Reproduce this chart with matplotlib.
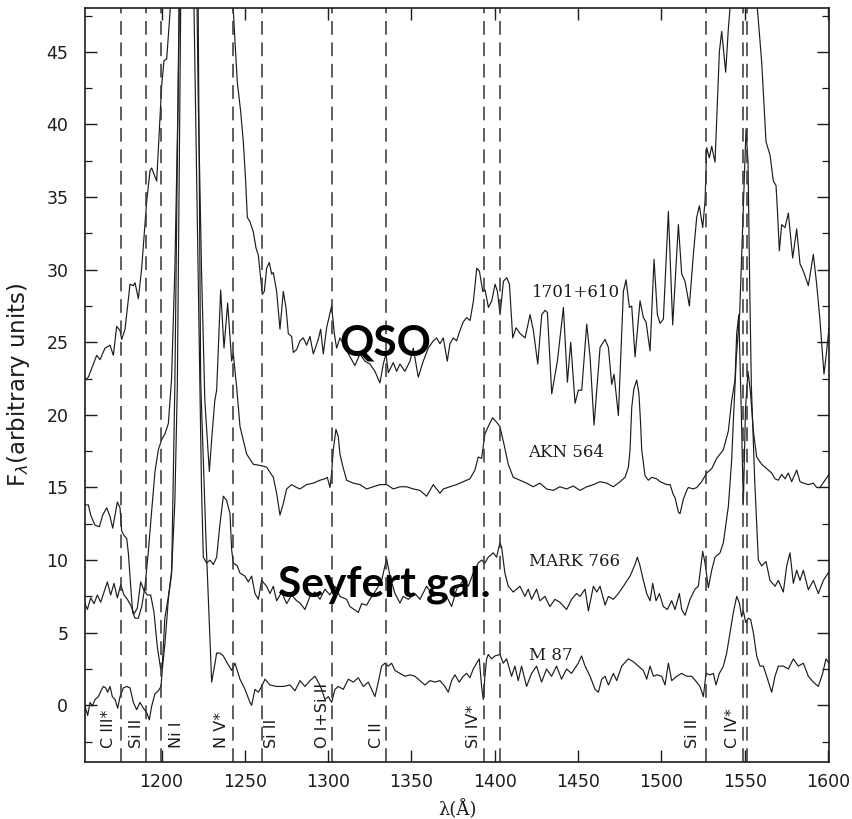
import matplotlib
matplotlib.use("Agg")
import matplotlib.pyplot as plt
import numpy as np

plt.rcParams["font.family"] = ["DejaVu Sans"]

# ---------------- spectra (wavelength in Angstrom, flux in arbitrary units) ----------------
lam_qso = [1154.1, 1156.1, 1159.1, 1161.1, 1163.1, 1166.1, 1169.1, 1171.1, 1173.1, 1175.1,
           1176.1, 1178.1, 1181.1, 1183.1, 1184.1, 1186.1, 1188.1, 1190.1, 1191.1, 1193.1,
           1194.1, 1197.1, 1198.7, 1200.1, 1201.5, 1203.1, 1205.1, 1208.0, 1212.0, 1216.0,
           1222.0, 1230.0, 1238.0, 1243.1, 1244.1, 1245.5, 1247.5, 1249.1, 1250.5, 1251.5,
           1253.1, 1255.1, 1256.7, 1258.1, 1259.5, 1260.5, 1261.7, 1263.1, 1264.7, 1266.1,
           1267.1, 1269.1, 1271.1, 1273.1, 1274.7, 1276.1, 1278.1, 1279.1, 1281.1, 1283.1,
           1285.1, 1287.1, 1289.1, 1291.1, 1294.1, 1295.5, 1297.1, 1299.1, 1302.1, 1303.7,
           1305.1, 1307.1, 1309.1, 1313.1, 1316.1, 1319.1, 1322.1, 1325.1, 1328.1, 1331.1,
           1333.1, 1334.7, 1336.1, 1339.1, 1341.1, 1343.1, 1346.1, 1349.1, 1351.1, 1354.1,
           1357.1, 1360.1, 1363.1, 1365.1, 1367.1, 1369.1, 1371.5, 1373.1, 1375.1, 1377.1,
           1379.1, 1381.1, 1383.1, 1385.2, 1387.2, 1389.2, 1390.8, 1392.8, 1394.2, 1396.2,
           1398.2, 1400.2, 1401.6, 1403.2, 1405.2, 1407.2, 1408.8, 1410.8, 1412.8, 1415.2,
           1418.2, 1421.2, 1423.2, 1425.8, 1428.2, 1430.2, 1431.6, 1434.2, 1437.6, 1441.2,
           1443.6, 1445.6, 1448.2, 1450.2, 1452.2, 1455.2, 1457.2, 1459.6, 1463.2, 1466.2,
           1468.2, 1470.2, 1471.6, 1474.2, 1477.2, 1478.8, 1480.8, 1482.2, 1484.2, 1487.2,
           1489.2, 1490.8, 1493.2, 1495.6, 1497.6, 1499.2, 1501.2, 1504.2, 1506.8, 1510.2,
           1512.2, 1514.2, 1516.8, 1519.2, 1521.2, 1522.8, 1524.8, 1526.2, 1527.2, 1528.8,
           1530.2, 1532.2, 1533.6, 1534.8, 1536.2, 1538.6, 1540.2, 1541.2, 1545.0, 1550.0,
           1555.0, 1557.6, 1560.2, 1562.8, 1565.2, 1567.2, 1568.8, 1569.6, 1570.8, 1572.2,
           1574.2, 1576.2, 1578.8, 1581.2, 1583.2, 1585.2, 1588.2, 1591.2, 1593.2, 1595.2,
           1597.6, 1599.2, 1600.6]
flux_qso = [22.4, 22.6, 23.5, 24.1, 23.8, 24.6, 24.8, 24.1, 26.1, 25.8,
            25.2, 25.9, 29.0, 28.9, 29.1, 28.0, 30.1, 33.1, 34.7, 36.8,
            37.0, 36.1, 39.7, 42.7, 44.4, 44.5, 47.7, 56.0, 68.0, 85.0,
            75.0, 65.0, 55.0, 47.85, 45.7, 42.9, 40.9, 38.8, 36.1, 33.6,
            33.3, 32.6, 31.5, 31.0, 29.4, 28.3, 28.5, 30.1, 30.5, 29.7,
            29.8, 28.5, 25.9, 28.5, 27.4, 25.6, 25.4, 24.3, 24.5, 25.1,
            25.3, 24.8, 25.4, 24.2, 25.2, 25.9, 24.2, 26.0, 27.5, 25.6,
            24.6, 25.3, 24.9, 24.0, 23.4, 24.2, 23.7, 23.5, 23.0, 22.2,
            23.5, 24.2, 22.9, 23.6, 23.0, 23.5, 23.0, 23.7, 24.6, 22.6,
            23.7, 24.6, 25.1, 25.3, 24.9, 25.3, 23.7, 24.9, 25.3, 25.1,
            25.8, 26.4, 26.7, 26.5, 27.85, 30.1, 29.9, 28.5, 28.6, 27.4,
            27.85, 29.0, 28.5, 26.9, 29.2, 29.45, 29.0, 25.3, 26.0, 25.6,
            25.3, 26.9, 25.8, 23.5, 26.9, 27.2, 27.05, 21.45, 23.7, 27.4,
            22.25, 25.0, 20.8, 21.7, 21.7, 26.25, 24.0, 19.3, 24.65, 25.2,
            24.65, 22.1, 22.8, 19.96, 28.5, 29.3, 27.4, 27.5, 24.0, 27.85,
            26.7, 26.4, 24.4, 30.7, 26.9, 26.3, 26.6, 34.0, 26.2, 33.1,
            29.7, 29.2, 27.5, 31.05, 33.6, 34.4, 32.9, 34.7, 38.4, 37.7,
            38.5, 37.4, 41.6, 45.0, 46.4, 43.6, 46.6, 48.0, 56.0, 62.0,
            55.0, 48.0, 44.3, 38.8, 37.9, 36.1, 35.8, 34.2, 31.3, 33.1,
            32.9, 33.9, 30.8, 32.8, 30.4, 29.9, 28.9, 31.05, 29.0, 26.5,
            22.8, 24.4, 26.0]

lam_akn = [1154.1, 1156.1, 1157.5, 1160.1, 1162.7, 1164.7, 1167.1, 1169.1, 1170.7, 1172.1,
           1173.5, 1175.1, 1176.1, 1177.5, 1179.1, 1180.1, 1181.5, 1182.7, 1184.1, 1186.1,
           1188.1, 1190.1, 1192.1, 1194.1, 1196.1, 1198.1, 1200.1, 1202.1, 1204.1, 1206.0,
           1208.0, 1210.0, 1212.0, 1216.0, 1220.0, 1222.0, 1224.0, 1226.0, 1228.7, 1230.5,
           1232.0, 1233.1, 1235.5, 1237.5, 1239.7, 1242.1, 1243.1, 1245.1, 1247.1, 1251.1,
           1255.1, 1260.1, 1263.1, 1267.1, 1269.1, 1271.1, 1273.1, 1275.1, 1278.1, 1281.1,
           1283.1, 1287.1, 1291.1, 1295.1, 1298.1, 1299.5, 1301.1, 1302.1, 1303.1, 1304.7,
           1306.1, 1307.1, 1308.7, 1311.1, 1315.1, 1319.1, 1323.1, 1327.1, 1331.1, 1335.1,
           1339.1, 1343.1, 1347.1, 1351.1, 1355.1, 1357.1, 1359.1, 1361.1, 1363.1, 1365.1,
           1367.1, 1369.1, 1373.1, 1377.1, 1381.1, 1385.1, 1388.1, 1390.1, 1392.1, 1394.1,
           1396.1, 1398.7, 1401.1, 1403.1, 1405.5, 1408.1, 1411.1, 1415.1, 1419.1, 1423.1,
           1427.1, 1431.1, 1435.1, 1439.1, 1443.1, 1447.1, 1451.2, 1455.2, 1459.2, 1463.2,
           1467.2, 1471.2, 1475.2, 1478.2, 1480.2, 1481.2, 1482.2, 1483.5, 1485.2, 1486.5,
           1487.5, 1488.2, 1490.2, 1492.2, 1494.2, 1497.2, 1499.2, 1503.2, 1505.2, 1507.2,
           1508.2, 1510.2, 1511.2, 1513.2, 1515.2, 1516.2, 1519.2, 1521.2, 1524.2, 1527.2,
           1530.2, 1533.2, 1537.2, 1540.2, 1542.2, 1544.2, 1545.2, 1546.5, 1548.0, 1549.2,
           1550.5, 1552.0, 1553.5, 1555.2, 1557.2, 1560.2, 1563.2, 1566.2, 1568.2, 1570.2,
           1572.2, 1574.2, 1576.2, 1578.2, 1581.2, 1583.2, 1585.2, 1588.2, 1591.2, 1593.2,
           1595.2, 1598.2, 1600.6]
flux_akn = [13.8, 13.8, 13.1, 12.4, 12.3, 13.1, 13.6, 13.0, 12.2, 13.1,
            14.0, 13.6, 12.0, 11.7, 11.5, 10.5, 8.2, 6.4, 6.0, 6.0,
            6.8, 8.2, 10.6, 13.4, 16.1, 17.6, 18.3, 18.7, 19.4, 22.4,
            30.0, 42.0, 60.0, 95.0, 60.0, 42.0, 30.0, 21.0, 16.1, 18.9,
            21.0, 21.7, 28.6, 24.6, 27.7, 23.7, 24.2, 21.9, 19.2, 17.3,
            16.6, 16.5, 16.4, 15.7, 14.6, 13.1, 13.9, 14.9, 15.2, 15.0,
            14.9, 15.2, 15.3, 15.5, 15.6, 15.7, 15.0, 16.0, 17.6, 19.0,
            18.5, 17.3, 16.5, 15.5, 15.3, 15.2, 14.9, 15.05, 15.2, 15.2,
            14.9, 15.05, 15.05, 14.9, 14.8, 14.6, 14.4, 14.8, 15.2, 14.9,
            14.6, 14.9, 15.05, 15.2, 15.4, 15.6, 16.2, 17.1, 17.0, 18.7,
            19.2, 19.8, 19.5, 19.2, 18.0, 16.6, 15.7, 15.5, 15.3, 15.05,
            15.3, 14.9, 14.8, 15.05, 14.9, 15.1, 14.8, 15.05, 15.2, 15.4,
            15.3, 15.05, 15.4, 15.7, 16.4, 17.6, 20.5, 21.8, 22.4, 21.5,
            19.5, 17.6, 15.8, 15.5, 15.7, 15.6, 15.4, 15.2, 15.2, 14.5,
            14.3, 13.3, 13.2, 14.2, 14.8, 15.0, 14.9, 15.0, 15.4, 16.0,
            16.3, 17.0, 17.6, 18.9, 21.0, 22.4, 25.6, 26.9, 20.0, 13.9,
            20.5, 23.0, 21.5, 18.9, 17.1, 16.6, 16.3, 16.0, 15.6, 15.5,
            15.9, 15.6, 16.0, 15.4, 16.2, 15.4, 15.3, 15.2, 15.3, 15.0,
            15.0, 15.5, 15.9]

lam_mrk = [1154.1, 1155.5, 1157.5, 1159.5, 1161.5, 1163.5, 1165.5, 1167.5, 1169.5, 1171.5,
           1173.5, 1175.5, 1177.5, 1179.5, 1181.5, 1183.5, 1185.5, 1187.5, 1189.5, 1191.5,
           1193.5, 1195.5, 1197.5, 1199.5, 1200.5, 1202.0, 1204.0, 1206.0, 1208.0, 1209.5,
           1211.5, 1214.0, 1217.0, 1219.5, 1223.0, 1224.0, 1225.1, 1227.1, 1229.1, 1231.1,
           1233.1, 1235.1, 1237.1, 1239.1, 1241.1, 1242.1, 1243.1, 1245.5, 1247.1, 1250.1,
           1252.1, 1254.1, 1256.1, 1258.1, 1260.1, 1263.1, 1265.1, 1267.1, 1269.1, 1272.1,
           1275.1, 1278.1, 1281.1, 1283.1, 1286.1, 1289.1, 1292.1, 1295.1, 1298.1, 1301.1,
           1304.1, 1307.1, 1311.1, 1313.1, 1318.1, 1320.1, 1323.1, 1325.1, 1329.1, 1332.1,
           1335.1, 1337.1, 1340.1, 1343.1, 1345.1, 1348.1, 1352.1, 1355.1, 1359.1, 1363.1,
           1367.1, 1371.1, 1374.1, 1377.1, 1381.1, 1384.1, 1387.1, 1390.1, 1392.1, 1394.1,
           1396.1, 1399.1, 1401.1, 1403.1, 1404.1, 1406.1, 1408.1, 1411.1, 1415.1, 1418.1,
           1420.1, 1422.1, 1425.1, 1427.1, 1430.1, 1433.1, 1436.1, 1439.1, 1443.1, 1446.1,
           1449.1, 1451.2, 1454.2, 1456.2, 1459.2, 1461.2, 1463.2, 1466.2, 1468.2, 1471.2,
           1474.2, 1477.2, 1481.2, 1484.2, 1485.6, 1487.2, 1489.2, 1491.2, 1493.2, 1494.8,
           1496.8, 1498.8, 1501.2, 1503.6, 1506.2, 1508.2, 1510.8, 1512.2, 1514.2, 1517.2,
           1520.2, 1522.2, 1524.8, 1526.2, 1528.2, 1530.2, 1532.2, 1535.2, 1537.2, 1540.2,
           1542.2, 1543.2, 1545.0, 1547.0, 1549.0, 1550.8, 1552.0, 1553.0, 1554.0, 1556.0,
           1558.2, 1560.2, 1562.8, 1565.2, 1568.2, 1570.2, 1573.2, 1575.2, 1577.2, 1579.2,
           1581.2, 1583.2, 1585.2, 1588.2, 1591.2, 1594.2, 1597.2, 1600.6]
flux_mrk = [7.0, 6.6, 7.4, 7.0, 7.6, 7.1, 7.8, 8.5, 7.6, 8.4,
            7.4, 8.3, 7.6, 7.3, 6.9, 6.3, 6.7, 8.5, 7.9, 7.6,
            7.6, 6.4, 4.0, 2.5, 2.8, 6.0, 7.4, 9.0, 14.0, 22.0,
            48.0, 80.0, 80.0, 48.0, 22.4, 15.0, 10.2, 9.8, 10.0, 9.7,
            10.2, 12.5, 14.4, 14.1, 13.2, 10.7, 9.8, 9.6, 9.1, 8.9,
            8.5, 8.9, 7.7, 7.3, 8.6, 8.2, 7.7, 8.2, 7.2, 7.8,
            7.0, 7.6, 7.2, 7.05, 6.6, 7.5, 7.8, 7.3, 8.0, 7.6,
            8.2, 7.5, 7.3, 6.8, 6.4, 7.0, 6.9, 7.3, 8.0, 8.6,
            10.1, 8.9, 7.7, 7.05, 7.5, 7.3, 7.7, 7.3, 8.2, 7.5,
            7.7, 7.5, 6.8, 8.0, 8.6, 8.2, 9.1, 9.8, 10.0, 9.8,
            10.2, 10.5, 10.2, 11.2, 10.9, 9.1, 8.2, 7.8, 8.2, 7.5,
            8.0, 7.3, 8.0, 7.2, 7.5, 6.8, 7.3, 7.1, 6.6, 7.3,
            7.7, 7.5, 8.0, 6.5, 8.2, 7.8, 8.2, 6.9, 7.5, 7.3,
            7.7, 8.2, 8.9, 9.7, 10.2, 9.6, 8.6, 7.7, 7.2, 8.4,
            7.2, 7.7, 6.8, 6.6, 7.2, 6.6, 7.7, 6.6, 6.2, 7.3,
            8.0, 8.2, 10.6, 9.8, 8.1, 9.3, 10.2, 10.5, 11.2, 13.7,
            16.9, 19.6, 24.0, 27.0, 33.8, 39.7, 37.4, 29.0, 22.0, 15.5,
            10.0, 9.6, 9.9, 8.6, 8.2, 8.6, 7.8, 9.6, 10.5, 8.4,
            9.3, 8.6, 9.3, 7.96, 8.6, 7.7, 8.6, 9.2]

lam_m87 = [1154.1, 1155.7, 1157.1, 1158.5, 1160.1, 1162.1, 1163.7, 1165.1, 1166.5, 1167.7,
           1169.1, 1170.5, 1172.1, 1173.7, 1175.1, 1177.1, 1179.1, 1181.1, 1183.1, 1185.1,
           1187.1, 1189.1, 1191.1, 1192.7, 1194.1, 1196.1, 1198.1, 1199.7, 1200.5, 1202.1,
           1204.1, 1206.1, 1208.0, 1210.5, 1214.0, 1219.0, 1222.0, 1223.5, 1226.5, 1230.1,
           1231.5, 1233.1, 1235.1, 1237.1, 1239.5, 1242.1, 1244.1, 1247.1, 1250.1, 1253.1,
           1254.1, 1256.1, 1258.1, 1260.1, 1262.1, 1265.1, 1269.1, 1273.1, 1277.1, 1280.1,
           1283.1, 1286.1, 1289.1, 1292.1, 1294.1, 1296.1, 1298.1, 1300.1, 1302.1, 1304.1,
           1306.1, 1309.1, 1312.1, 1315.1, 1318.1, 1321.1, 1324.1, 1326.1, 1328.1, 1330.1,
           1332.1, 1334.1, 1336.1, 1338.1, 1340.1, 1343.1, 1346.1, 1349.1, 1352.1, 1355.1,
           1358.1, 1361.1, 1364.1, 1367.1, 1370.1, 1372.1, 1374.1, 1376.1, 1378.7, 1381.1,
           1383.1, 1385.1, 1387.1, 1389.1, 1390.7, 1392.1, 1393.1, 1394.1, 1395.1, 1396.1,
           1398.1, 1400.1, 1403.1, 1405.1, 1407.1, 1410.1, 1412.1, 1414.1, 1416.1, 1419.1,
           1422.1, 1425.1, 1428.1, 1431.1, 1434.1, 1437.1, 1440.1, 1443.1, 1446.1, 1450.1,
           1452.1, 1454.2, 1457.2, 1460.2, 1462.2, 1464.2, 1466.2, 1468.2, 1471.2, 1473.2,
           1476.2, 1480.2, 1483.2, 1486.2, 1489.2, 1491.2, 1493.2, 1495.2, 1497.2, 1500.2,
           1502.2, 1504.2, 1506.2, 1509.2, 1512.2, 1515.2, 1518.2, 1521.2, 1523.2, 1525.2,
           1526.8, 1529.2, 1531.2, 1532.8, 1534.8, 1537.2, 1539.2, 1541.2, 1543.2, 1545.2,
           1546.8, 1548.2, 1549.2, 1550.6, 1552.2, 1553.6, 1555.2, 1557.2, 1559.2, 1561.2,
           1563.2, 1566.2, 1568.2, 1570.2, 1573.2, 1576.2, 1579.2, 1582.2, 1585.2, 1588.2,
           1591.2, 1594.2, 1596.8, 1598.8, 1600.6]
flux_m87 = [-0.05, -0.7, 0.2, -0.05, 0.4, 0.6, 1.0, 1.3, 1.2, 0.9,
            1.3, 0.6, 0.4, -0.2, 0.6, 1.2, 1.3, 1.2, 0.2, -0.3,
            0.2, -0.2, -0.5, -1.0, -0.05, 0.8, 1.0, 1.3, 2.5, 4.3,
            7.3, 9.3, 22.0, 48.0, 85.0, 70.0, 48.0, 22.4, 12.0, 1.6,
            2.5, 3.6, 3.6, 3.4, 2.9, 2.4, 2.9, 1.8, 1.1, 0.2,
            0.0, 1.1, 0.9, 1.3, 1.8, 1.4, 1.3, 1.3, 1.4, 1.0,
            1.7, 1.3, 1.7, 2.0, 1.6, 1.1, 0.4, 0.6, 0.2, 1.1,
            1.3, 1.1, 1.8, 1.6, 1.9, 1.3, 1.6, 1.1, 0.6, 1.6,
            2.7, 2.9, 2.7, 2.9, 2.4, 2.2, 2.0, 2.1, 2.0, 1.7,
            1.4, 1.7, 1.6, 1.7, 1.3, 0.9, 1.7, 2.1, 1.6, 2.0,
            2.2, 1.9, 2.5, 2.9, 3.2, 1.3, 0.4, 2.0, 3.2, 3.5,
            3.2, 3.4, 3.5, 2.9, 3.2, 2.0, 2.7, 1.7, 2.7, 1.3,
            2.2, 2.7, 1.6, 2.5, 2.0, 2.7, 1.8, 2.5, 2.2, 2.9,
            3.4, 2.7, 2.0, 1.1, 0.9, 1.8, 2.0, 1.4, 2.2, 1.7,
            2.7, 3.2, 3.0, 2.7, 2.4, 1.8, 2.7, 2.0, 2.1, 2.0,
            1.4, 2.9, 1.7, 2.0, 2.2, 2.0, 2.0, 1.6, 1.3, 0.6,
            2.2, 2.1, 2.2, 1.4, 2.2, 2.7, 3.6, 5.0, 6.4, 7.5,
            7.05, 6.1, 6.5, 5.7, 6.0, 5.9, 5.0, 3.4, 2.7, 2.7,
            2.0, 0.9, 2.0, 2.7, 2.7, 2.5, 3.2, 2.7, 2.9, 2.0,
            1.6, 1.3, 2.2, 3.2, 2.9]

spectrum_names = ["1701+610", "AKN 564", "MARK 766", "M 87"]
# anchor (wavelength, flux) of each spectrum's name
name_pos = [(1422.3, 28.4), (1420.2, 17.4), (1420.6, 9.9), (1420.6, 3.4)]

# absorption-line markers: wavelength of dashed line, label, label wavelength
line_waves = [1175.7, 1190.6, 1199.8, 1242.8, 1260.4, 1302.2, 1334.7, 1393.8, 1403.0,
              1527.0, 1549.0, 1551.2]
line_labels = ["C III*", "Si II", "Ni I", "N V*", "Si II", "O I+Si II", "C II", "Si IV*",
               "Si II", "C IV*"]
label_waves = [1167.9, 1184.7, 1208.7, 1236.3, 1266.3, 1296.9, 1329.3, 1387.0, 1518.5, 1542.4]

class_labels = ["QSO", "Seyfert gal."]
class_pos = [(1334.4, 24.1), (1333.5, 7.5)]

# ---------------- figure ----------------
ink = "#1c1c1c"
fig = plt.figure(figsize=(8.52, 8.19), dpi=100)
ax = fig.add_axes([0.0998, 0.0700, 0.8732, 0.9199])
ax.set_xlim(1154.1, 1600.6)
ax.set_ylim(-3.88, 48.0)

for lam, flux in [(lam_qso, flux_qso), (lam_akn, flux_akn), (lam_mrk, flux_mrk), (lam_m87, flux_m87)]:
    ax.plot(lam, flux, color=ink, lw=0.85, solid_joinstyle="round")

for w in line_waves:
    ax.axvline(w, color="#333333", lw=1.1, dashes=(9, 5))

for txt, w in zip(line_labels, label_waves):
    ax.text(w, -2.95, txt, rotation=90, ha="center", va="bottom", fontsize=11.5,
            family="DejaVu Sans", color=ink)

for txt, (w, f) in zip(spectrum_names, name_pos):
    ax.text(w, f, txt, ha="left", va="center", fontsize=12, family="DejaVu Serif",
            color=ink)

for txt, (w, f) in zip(class_labels, class_pos):
    ax.text(w, f, txt, ha="center", va="baseline", fontsize=30.5, family="Lato",
            fontweight="bold", color="black")

ax.set_xticks(np.arange(1200, 1601, 50))
ax.set_yticks(np.arange(0, 46, 5))
ax.set_yticks(np.arange(-2.5, 48, 2.5), minor=True)
ax.tick_params(axis="both", which="major", direction="in", top=True, right=True,
               length=8.5, width=1.0, labelsize=12.5, colors=ink)
ax.tick_params(axis="y", which="major", pad=12)
ax.tick_params(axis="x", which="major", pad=8)
ax.tick_params(axis="y", which="minor", direction="in", right=True, length=5, width=0.9,
               colors=ink)
for sp in ax.spines.values():
    sp.set_linewidth(1.2)
    sp.set_color(ink)

ax.set_xlabel("λ(Å)", fontsize=13, family="DejaVu Serif", labelpad=6, color=ink)
ax.set_ylabel(r"F$_{\lambda}$(arbitrary units)", fontsize=16.5, family="DejaVu Sans",
              labelpad=10, color=ink)

fig.savefig("out.png", dpi=100)
